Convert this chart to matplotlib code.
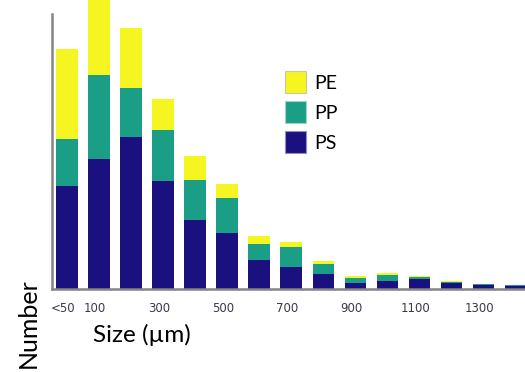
import numpy as np
import matplotlib.pyplot as plt
from matplotlib.patches import Patch

# particle counts per size class
sizes = ['<50', '100', '200', '300', '400', '500', '600', '700',
         '800', '900', '1000', '1100', '1200', '1300', '1400']
ps = [103, 130, 152, 108, 69, 56, 29, 22, 15, 6, 8, 10, 6, 4, 3]
pp = [47, 84, 49, 51, 40, 35, 16, 20, 10, 5, 6, 2, 1, 1, 1]
pe = [90, 76, 60, 31, 24, 14, 8, 5, 3, 2, 2, 1, 1, 0.5, 0.5]
shown = ['<50', '100', '300', '500', '700', '900', '1100', '1300']

c_ps = '#1b1080'
c_pp = '#1b9e86'
c_pe = '#f5f522'

fig = plt.figure(figsize=(5.25, 3.72), dpi=100)
ax = fig.add_axes([52/525, 83/372, 473/525, 275/372])

x = np.arange(len(sizes))
ps = np.array(ps, float)
pp = np.array(pp, float)
pe = np.array(pe, float)
w = 0.66
ax.bar(x, ps, w, color=c_ps, clip_on=False)
ax.bar(x, pp, w, bottom=ps, color=c_pp, clip_on=False)
ax.bar(x, pe, w, bottom=ps + pp, color=c_pe, clip_on=False)

ax.set_xlim(-0.47, 14.31)
ax.set_ylim(0, 275)
ax.set_yticks([])
tick_pos = [sizes.index(s) - 0.12 for s in shown]
ax.set_xticks(tick_pos)
ax.set_xticklabels(shown, fontsize=8.5, color='#3a3a48')
ax.tick_params(axis='x', length=0, pad=9)

for s in ['top', 'right']:
    ax.spines[s].set_visible(False)
for s in ['left', 'bottom']:
    ax.spines[s].set_color('#858585')
    ax.spines[s].set_linewidth(1.8)

handles = [Patch(facecolor=c_pe, edgecolor='#c9c99a', lw=0.8, label='PE'),
           Patch(facecolor=c_pp, edgecolor='#9fd4c8', lw=0.8, label='PP'),
           Patch(facecolor=c_ps, edgecolor='#8f8fc0', lw=0.8, label='PS')]
fig.legend(handles=handles, loc='upper left', bbox_to_anchor=(267/525, 1 - 54/372),
           frameon=False, prop={'family': 'Lato', 'size': 14},
           handlelength=1.1, handleheight=1.35, handletextpad=0.45, labelspacing=0.42)

fig.text(142/525, 1 - 342/372, 'Size (\u00b5m)', family='Lato', fontsize=17.5,
         ha='center', va='baseline')
fig.text(28.5/525, 1 - 323.5/372, 'Number', family='Lato', fontsize=18,
         rotation=90, ha='center', va='center')

fig.savefig('out.png', dpi=100)
